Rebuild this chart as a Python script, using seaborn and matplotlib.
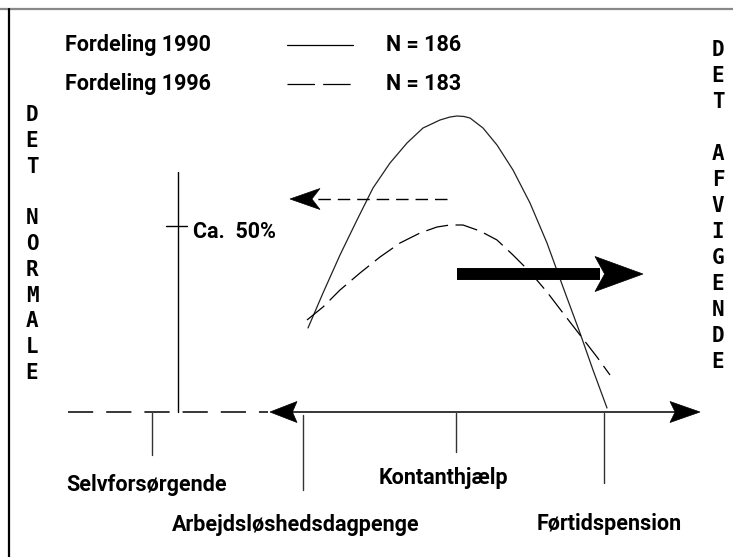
import numpy as np
import matplotlib.pyplot as plt
import seaborn as sns
import pandas as pd
from matplotlib.patches import Polygon

# Curves (canvas pixels: x to the right, y downwards)
x_1990 = [308, 323, 340, 357, 373, 390, 407, 423, 440, 450, 457, 464, 470, 483, 497, 513, 530, 547, 563, 580, 593, 607]
y_1990 = [328, 293, 255, 220, 188, 163, 143, 128, 120, 117, 116, 116.5, 118, 128, 145, 170, 203, 243, 287, 333, 370, 408]
x_1996 = [307, 323, 340, 360, 380, 400, 420, 437, 450, 463, 480, 497, 513, 530, 547, 563, 580, 597, 610]
y_1996 = [320, 307, 290, 273, 257, 243, 233, 227, 225, 225, 231, 240, 255, 272, 292, 313, 335, 357, 375]

legend_labels = ["Fordeling 1990", "Fordeling 1996"]
legend_counts = ["N = 186", "N = 183"]
categories = ["Selvforsørgende", "Arbejdsløshedsdagpenge", "Kontanthjælp", "Førtidspension"]
category_x = [152, 303, 456, 604]
left_word = "DET NORMALE"
right_word = "DET AFVIGENDE"
scale_label = "Ca.  50%"

sns.set_style("white")
plt.rcParams['font.family'] = ['Roboto', 'DejaVu Sans']

fig = plt.figure(figsize=(7.33, 5.57), dpi=100)
ax = fig.add_axes([0, 0, 1, 1])
ax.set_xlim(0, 733)
ax.set_ylim(557, 0)
ax.axis("off")

label_font = dict(fontsize=15.5, fontweight="bold", color="black")
mono_font = dict(fontsize=15, fontweight="bold", family="DejaVu Sans Mono", color="black")


def arrowhead(tip, direction, length, half, notch=0.2):
    # notched (stealth style) arrow head
    tx, ty = tip
    bx = tx - direction * length
    pts = [(tx, ty), (bx, ty - half), (bx + direction * length * notch, ty), (bx, ty + half)]
    ax.add_patch(Polygon(pts, closed=True, facecolor="black", edgecolor="black", lw=0.5))


# frame
ax.plot([0, 733], [9, 9], color="#888888", lw=1.6)
ax.plot([9, 9], [9, 557], color="black", lw=1.6)

# distributions
df90 = pd.DataFrame({"x": x_1990, "y": y_1990})
df96 = pd.DataFrame({"x": x_1996, "y": y_1996})
sns.lineplot(data=df90, x="x", y="y", sort=False, color="#222222", lw=0.9, ax=ax)
sns.lineplot(data=df96, x="x", y="y", sort=False, color="black", lw=0.9,
             dashes=False, ax=ax).lines[-1].set_dashes([18, 6])

# legend block
for i, (lab, n) in enumerate(zip(legend_labels, legend_counts)):
    yy = 45 + i * 39
    ax.text(65, yy, lab, va="center", ha="left", **label_font)
    ax.text(386, yy, n, va="center", ha="left", **label_font)
ax.plot([287, 353], [45, 45], color="black", lw=0.9)
ax.plot([287, 353], [84, 84], color="black", lw=0.9, dashes=[22, 6.5])

# vertical words
for i, ch in enumerate(left_word):
    ax.text(32, 115 + i * 25.8, ch, ha="center", va="center", **mono_font)
for i, ch in enumerate(right_word):
    ax.text(718, 50 + i * 26, ch, ha="center", va="center", **mono_font)

# 50% scale
ax.plot([178, 178], [172, 412], color="black", lw=1)
ax.plot([166, 187], [226, 226], color="black", lw=1)
ax.text(193, 232, scale_label, ha="left", va="center", **label_font)

# dashed arrow to the left
ax.plot([447, 305], [199, 199], color="black", lw=1, dashes=[9, 5])
arrowhead((290, 199), -1, 30, 10.5, notch=0.27)

# thick arrow to the right
ax.plot([457, 600], [274, 274], color="black", lw=8.6, solid_capstyle="butt")
arrowhead((643, 274), 1, 48, 17.5, notch=0.2)

# bottom axis
ax.plot([68, 268], [412, 412], color="black", lw=1.1, dashes=[16.5, 8.5])
ax.plot([285, 685], [412, 412], color="black", lw=1.1)
arrowhead((270, 412), -1, 27, 10.5, notch=0.17)
arrowhead((700, 412), 1, 30, 10.5, notch=0.17)

tick_ends = [455, 490, 452, 483]
label_pos = [(147, 485), (296, 525), (443, 478), (609, 524)]
for x, yend, lab, (lx, ly) in zip(category_x, tick_ends, categories, label_pos):
    ax.plot([x, x], [413 if x != 303 else 415, yend], color="#333333", lw=1)
    ax.text(lx, ly, lab, ha="center", va="center", **label_font)

fig.savefig("out.png", dpi=100)
